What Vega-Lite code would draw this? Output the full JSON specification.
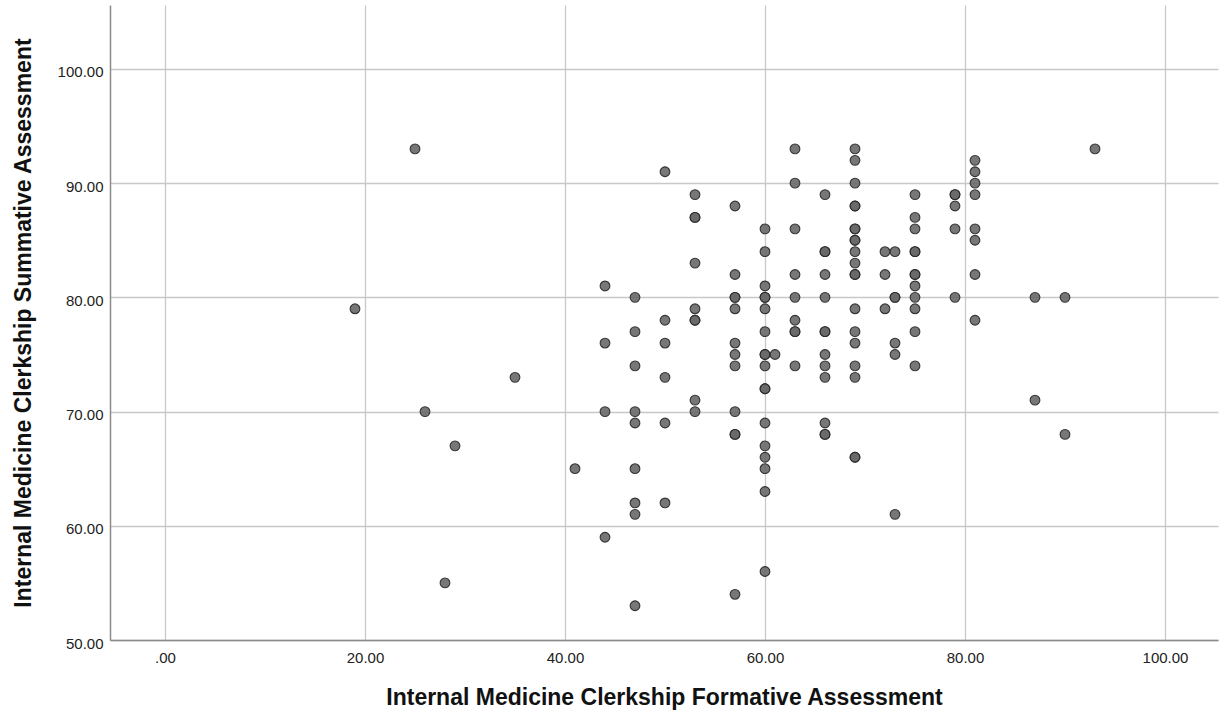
{
  "$schema": "https://vega.github.io/schema/vega-lite/v6.json",
  "autosize": {"type": "none"},
  "padding": {"left": 110, "top": 5, "right": 1, "bottom": 77},
  "width": 1108,
  "height": 635,
  "background": "white",
  "config": {"view": {"stroke": null}, "font": "Liberation Sans"},
  "data": {"values": [
    {"f":19,"s":79},{"f":25,"s":93},{"f":26,"s":70},{"f":29,"s":67},{"f":28,"s":55},{"f":35,"s":73},{"f":41,"s":65},
    {"f":44,"s":81},{"f":44,"s":76},{"f":44,"s":70},{"f":44,"s":59},
    {"f":47,"s":80},{"f":47,"s":77},{"f":47,"s":74},{"f":47,"s":70},{"f":47,"s":69},{"f":47,"s":65},{"f":47,"s":62},{"f":47,"s":61},{"f":47,"s":53},
    {"f":50,"s":91},{"f":50,"s":78},{"f":50,"s":76},{"f":50,"s":73},{"f":50,"s":69},{"f":50,"s":62},
    {"f":53,"s":89},{"f":53,"s":87},{"f":53,"s":87},{"f":53,"s":83},{"f":53,"s":79},{"f":53,"s":78},{"f":53,"s":78},{"f":53,"s":71},{"f":53,"s":70},
    {"f":57,"s":88},{"f":57,"s":82},{"f":57,"s":80},{"f":57,"s":80},{"f":57,"s":79},{"f":57,"s":76},{"f":57,"s":75},{"f":57,"s":74},{"f":57,"s":70},{"f":57,"s":68},{"f":57,"s":68},{"f":57,"s":54},
    {"f":60,"s":86},{"f":60,"s":84},{"f":60,"s":81},{"f":60,"s":80},{"f":60,"s":80},{"f":60,"s":79},{"f":60,"s":77},{"f":60,"s":75},{"f":60,"s":75},{"f":60,"s":74},{"f":60,"s":72},{"f":60,"s":72},{"f":60,"s":69},{"f":60,"s":67},{"f":60,"s":66},{"f":60,"s":65},{"f":60,"s":63},{"f":60,"s":56},
    {"f":61,"s":75},
    {"f":63,"s":93},{"f":63,"s":90},{"f":63,"s":86},{"f":63,"s":82},{"f":63,"s":80},{"f":63,"s":78},{"f":63,"s":77},{"f":63,"s":77},{"f":63,"s":74},
    {"f":66,"s":89},{"f":66,"s":84},{"f":66,"s":84},{"f":66,"s":82},{"f":66,"s":80},{"f":66,"s":77},{"f":66,"s":77},{"f":66,"s":75},{"f":66,"s":74},{"f":66,"s":73},{"f":66,"s":69},{"f":66,"s":68},{"f":66,"s":68},
    {"f":69,"s":93},{"f":69,"s":92},{"f":69,"s":90},{"f":69,"s":88},{"f":69,"s":88},{"f":69,"s":86},{"f":69,"s":86},{"f":69,"s":85},{"f":69,"s":85},{"f":69,"s":84},{"f":69,"s":83},{"f":69,"s":82},{"f":69,"s":82},{"f":69,"s":79},{"f":69,"s":77},{"f":69,"s":76},{"f":69,"s":74},{"f":69,"s":73},{"f":69,"s":66},{"f":69,"s":66},
    {"f":72,"s":84},{"f":72,"s":82},{"f":72,"s":79},
    {"f":73,"s":84},{"f":73,"s":80},{"f":73,"s":80},{"f":73,"s":76},{"f":73,"s":75},{"f":73,"s":61},
    {"f":75,"s":89},{"f":75,"s":87},{"f":75,"s":86},{"f":75,"s":84},{"f":75,"s":84},{"f":75,"s":82},{"f":75,"s":82},{"f":75,"s":81},{"f":75,"s":80},{"f":75,"s":79},{"f":75,"s":77},{"f":75,"s":74},
    {"f":79,"s":89},{"f":79,"s":89},{"f":79,"s":88},{"f":79,"s":86},{"f":79,"s":80},
    {"f":81,"s":92},{"f":81,"s":91},{"f":81,"s":90},{"f":81,"s":89},{"f":81,"s":86},{"f":81,"s":85},{"f":81,"s":82},{"f":81,"s":78},
    {"f":87,"s":80},{"f":87,"s":71},{"f":90,"s":80},{"f":90,"s":68},{"f":93,"s":93}
  ]},
  "mark": {"type": "point", "filled": true, "size": 95, "fill": "#686868", "fillOpacity": 0.9, "stroke": "#262626", "strokeWidth": 1.1, "strokeOpacity": 0.9},
  "encoding": {
    "x": {
      "field": "f", "type": "quantitative",
      "title": "Internal Medicine Clerkship Formative Assessment",
      "scale": {"domain": [-5.5, 105.3], "nice": false, "zero": false},
      "axis": {
        "values": [0, 20, 40, 60, 80, 100],
        "labelExpr": "datum.value == 0 ? '.00' : format(datum.value, '.2f')",
        "grid": true, "gridColor": "#c8c8c8", "gridWidth": 1.3,
        "domain": true, "domainColor": "#8a8a8a", "domainWidth": 1.5,
        "ticks": false, "labelPadding": 10, "labelFontSize": 15, "labelColor": "#222222",
        "labelFont": "Liberation Sans",
        "titleFont": "Liberation Sans", "titleFontSize": 23, "titleFontWeight": "bold", "titleColor": "#111111",
        "titlePadding": 21
      }
    },
    "y": {
      "field": "s", "type": "quantitative",
      "title": "Internal Medicine Clerkship Summative Assessment",
      "scale": {"domain": [50, 105.6], "nice": false, "zero": false},
      "axis": {
        "values": [50, 60, 70, 80, 90, 100],
        "labelExpr": "format(datum.value, '.2f')",
        "grid": true, "gridColor": "#c8c8c8", "gridWidth": 1.3,
        "domain": true, "domainColor": "#8a8a8a", "domainWidth": 1.5,
        "ticks": false, "labelPadding": 7, "labelFontSize": 15, "labelColor": "#222222",
        "labelFont": "Liberation Sans", "labelOffset": 3,
        "titleFont": "Liberation Sans", "titleFontSize": 23, "titleFontWeight": "bold", "titleColor": "#111111",
        "titlePadding": 22
      }
    }
  }
}
